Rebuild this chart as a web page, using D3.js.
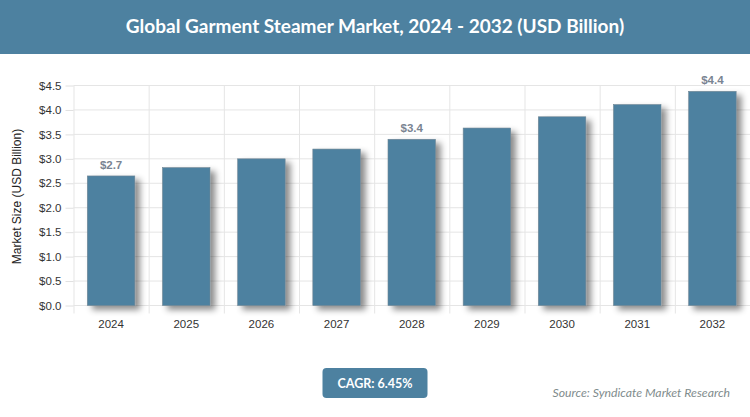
<!DOCTYPE html>
<html>
<head>
<meta charset="utf-8">
<script src="https://cdnjs.cloudflare.com/ajax/libs/d3/7.8.5/d3.min.js"></script>
<style>
  html, body { margin: 0; padding: 0; background: #fff; overflow: hidden; }
  svg { display: block; }
  .grid line { stroke: #e5e5e5; stroke-width: 1; }
  .axis path { display: none; }
  .axis line { stroke: #e0e0e0; }
  .axis text { font-family: "Liberation Sans", Arial, sans-serif; font-size: 11.5px; fill: #333; }
</style>
</head>
<body>
<div id="chart"></div>
<script>
// chart values
var years = ["2024", "2025", "2026", "2027", "2028", "2029", "2030", "2031", "2032"];
var market = [2.65, 2.82, 3.0, 3.2, 3.4, 3.63, 3.86, 4.11, 4.38];
var y_ticks = [0, 0.5, 1, 1.5, 2, 2.5, 3, 3.5, 4, 4.5];
var labelled = ["2024", "2028", "2032"];
var bar_labels = ["$2.7", "$3.4", "$4.4"];

var title = "Global Garment Steamer Market, 2024 - 2032 (USD Billion)";
var y_title = "Market Size (USD Billion)";
var cagr = "CAGR: 6.45%";
var source = "Source: Syndicate Market Research";

var width = 750, height = 417;
var blue = "#4d81a0";

var svg = d3.select("#chart").append("svg")
  .attr("width", width)
  .attr("height", height);

// bar shadow
var filter = svg.append("defs").append("filter")
  .attr("id", "shadow")
  .attr("x", "-20%").attr("y", "-10%")
  .attr("width", "150%").attr("height", "120%");
filter.append("feDropShadow")
  .attr("dx", 5).attr("dy", 4)
  .attr("stdDeviation", 3)
  .attr("flood-color", "#000")
  .attr("flood-opacity", 0.45);

// header band
svg.append("rect")
  .attr("width", width)
  .attr("height", 54)
  .attr("fill", blue);

svg.append("text")
  .attr("x", width / 2)
  .attr("y", 33)
  .attr("text-anchor", "middle")
  .attr("font-family", "Lato, sans-serif")
  .attr("font-weight", 700)
  .attr("font-size", 19)
  .attr("fill", "#fff")
  .text(title);

// scales
var x = d3.scaleBand().domain(years).range([73.5, 750]).padding(0);
var y = d3.scaleLinear().domain([0, 4.5]).range([305.5, 85.5]);

// gridlines
var grid = svg.append("g").attr("class", "grid");
grid.selectAll(".h").data(y_ticks).enter().append("line")
  .attr("x1", 73.5).attr("x2", 750)
  .attr("y1", function(d) { return y(d); })
  .attr("y2", function(d) { return y(d); });
grid.selectAll(".v").data(years).enter().append("line")
  .attr("x1", function(d) { return x(d) + 0.5; })
  .attr("x2", function(d) { return x(d) + 0.5; })
  .attr("y1", y(4.5))
  .attr("y2", 313.5);

// axes
svg.append("g")
  .attr("class", "axis")
  .attr("transform", "translate(73.5,0)")
  .call(d3.axisLeft(y).tickValues(y_ticks).tickSize(8).tickPadding(4)
    .tickFormat(function(d) { return "$" + d.toFixed(1); }));

svg.append("g")
  .attr("class", "axis")
  .attr("transform", "translate(0,305.5)")
  .call(d3.axisBottom(x).tickSize(0).tickPadding(14));

svg.append("text")
  .attr("transform", "translate(21,196.5) rotate(-90)")
  .attr("text-anchor", "middle")
  .attr("font-family", "'Liberation Sans', Arial, sans-serif")
  .attr("font-size", 12)
  .attr("fill", "#222")
  .text(y_title);

// bars
var bar_w = 47.5;
svg.selectAll(".bar")
  .data(market)
  .enter().append("rect")
  .attr("class", "bar")
  .attr("x", function(d, i) { return x(years[i]) + (x.bandwidth() - bar_w) / 2; })
  .attr("y", function(d) { return y(d); })
  .attr("width", bar_w)
  .attr("height", function(d) { return y(0) - y(d); })
  .attr("fill", blue)
  .attr("stroke", "#6f8593")
  .attr("stroke-width", 0.6)
  .attr("filter", "url(#shadow)");

// value labels, only on some bars
svg.selectAll(".bar-label")
  .data(labelled)
  .enter().append("text")
  .attr("class", "bar-label")
  .attr("x", function(d) { return x(d) + x.bandwidth() / 2; })
  .attr("y", function(d) { return y(market[years.indexOf(d)]) - 7; })
  .attr("text-anchor", "middle")
  .attr("font-family", "'Liberation Sans', Arial, sans-serif")
  .attr("font-weight", 700)
  .attr("font-size", 11.5)
  .attr("fill", "#7a8492")
  .text(function(d, i) { return bar_labels[i]; });

// CAGR badge
svg.append("rect")
  .attr("x", 322.5).attr("y", 368)
  .attr("width", 105).attr("height", 30)
  .attr("rx", 4)
  .attr("fill", blue);

svg.append("text")
  .attr("x", 375).attr("y", 388)
  .attr("text-anchor", "middle")
  .attr("font-family", "Lato, sans-serif")
  .attr("font-weight", 700)
  .attr("font-size", 12.5)
  .attr("fill", "#fff")
  .text(cagr);

// source note
svg.append("text")
  .attr("x", 730).attr("y", 397)
  .attr("text-anchor", "end")
  .attr("font-family", "Lato, sans-serif")
  .attr("font-style", "italic")
  .attr("font-size", 12.25)
  .attr("fill", "#7f8c8d")
  .text(source);
</script>
</body>
</html>
